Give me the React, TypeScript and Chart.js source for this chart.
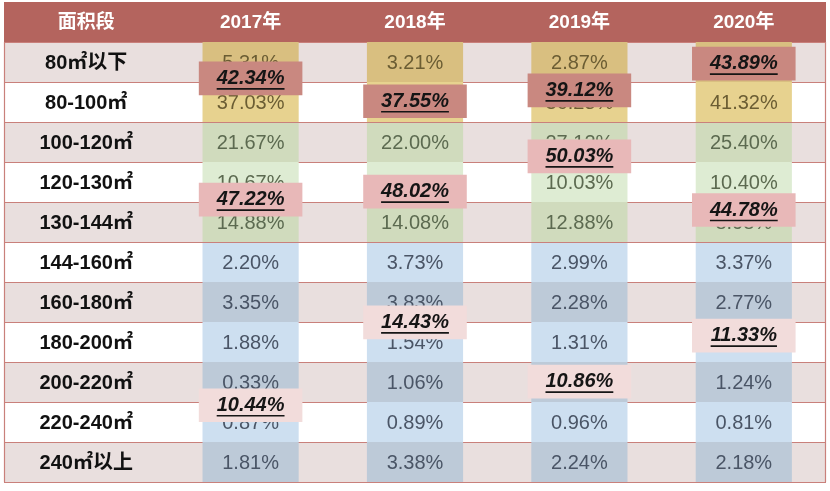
import { useEffect, useRef } from "react";
import { Chart, registerables } from "chart.js";

Chart.register(...registerables);

// ---------- data ----------
const columnHeader = "面积段";
const years = ["2017年", "2018年", "2019年", "2020年"];
const areaBands = [
  "80㎡以下",
  "80-100㎡",
  "100-120㎡",
  "120-130㎡",
  "130-144㎡",
  "144-160㎡",
  "160-180㎡",
  "180-200㎡",
  "200-220㎡",
  "220-240㎡",
  "240㎡以上",
];
const share2017 = [5.31, 37.03, 21.67, 10.67, 14.88, 2.2, 3.35, 1.88, 0.33, 0.87, 1.81];
const share2018 = [3.21, 34.34, 22.0, 11.94, 14.08, 3.73, 3.83, 1.54, 1.06, 0.89, 3.38];
const share2019 = [2.87, 36.25, 27.12, 10.03, 12.88, 2.99, 2.28, 1.31, 1.08, 0.96, 2.24];
const share2020 = [2.57, 41.32, 25.4, 10.4, 8.98, 3.37, 2.77, 0.96, 1.24, 0.81, 2.18];
const yearShares = [share2017, share2018, share2019, share2020];
// size group of each band: 0 = up to 100㎡, 1 = 100-144㎡, 2 = above 144㎡
const bandGroup = [0, 0, 1, 1, 1, 2, 2, 2, 2, 2, 2];
// group totals per year
const smallTotal = [42.34, 37.55, 39.12, 43.89];
const midTotal = [47.22, 48.02, 50.03, 44.78];
const largeTotal = [10.44, 14.43, 10.86, 11.33];

// ---------- layout of the total labels (row units) ----------
const smallLabelRow = [0.91, 1.48, 1.21, 0.54];
const midLabelRow = [3.94, 3.74, 2.86, 4.2];
const largeLabelRow = [9.08, 7.01, 8.49, 7.34];
const LABEL_HALF = 0.42;

// ---------- styles ----------
const HEADER_BG = "#b4645e";
const ROW_ALT_BG = "#e9dfde";
const LINE = "#c9807b";
const CELL_COLORS = [
  { white: "#e7d28f", alt: "#d9bf80", text: "#6b5d33" },
  { white: "#deecd3", alt: "#d0dbbd", text: "#5c6a50" },
  { white: "#cddff0", alt: "#bdcad8", text: "#4a5566" },
];
const TOTAL_COLORS = ["#c98880", "#e8b8b8", "#f2dcdb"];
const LATIN = '"Liberation Sans", "Noto Sans CJK SC", sans-serif';
const CJK = '"Liberation Sans", "Noto Sans CJK SC", sans-serif';

const fmt = (v: number) => v.toFixed(2) + "%";

const tablePainter = {
  id: "tablePainter",
  beforeDatasetsDraw(chart: any) {
    const { ctx, chartArea: ca, scales } = chart;
    const x = scales.x;
    const y = scales.y;
    chart.$cellTextDone = false;
    ctx.save();
    // row backgrounds
    areaBands.forEach((_, i) => {
      const top = y.getPixelForValue(i);
      const bottom = y.getPixelForValue(i + 1);
      ctx.fillStyle = i % 2 === 0 ? ROW_ALT_BG : "#ffffff";
      ctx.fillRect(ca.left, top, ca.right - ca.left, bottom - top);
    });
    // header
    ctx.fillStyle = HEADER_BG;
    ctx.fillRect(ca.left, ca.top - 40, ca.right - ca.left, 40);
    ctx.fillStyle = "#ffffff";
    ctx.font = `bold 19px ${CJK}`;
    ctx.textAlign = "center";
    ctx.textBaseline = "middle";
    [columnHeader, ...years].forEach((t, k) => {
      ctx.fillText(t, x.getPixelForValue(k), ca.top - 19);
    });
    // grid lines
    ctx.strokeStyle = LINE;
    ctx.lineWidth = 1.2;
    for (let i = 0; i <= areaBands.length; i++) {
      const py = Math.round(y.getPixelForValue(i)) + 0.5;
      ctx.beginPath();
      ctx.moveTo(ca.left, py);
      ctx.lineTo(ca.right, py);
      ctx.stroke();
    }
    ctx.beginPath();
    ctx.moveTo(ca.left + 0.5, ca.top);
    ctx.lineTo(ca.left + 0.5, ca.bottom);
    ctx.moveTo(ca.right - 0.5, ca.top);
    ctx.lineTo(ca.right - 0.5, ca.bottom);
    ctx.stroke();
    // band labels
    ctx.fillStyle = "#111111";
    ctx.font = `bold 20px ${CJK}`;
    areaBands.forEach((t, i) => {
      ctx.fillText(t, x.getPixelForValue(0), y.getPixelForValue(i + 0.5) + 1);
    });
    ctx.restore();
  },
  beforeDatasetDraw(chart: any, args: any) {
    const ds = chart.data.datasets[args.index];
    if (!ds.isTotal || chart.$cellTextDone) return;
    chart.$cellTextDone = true;
    const { ctx, chartArea: ca, scales } = chart;
    const y = scales.y;
    ctx.save();
    // separators between size groups stay visible over the cells
    ctx.strokeStyle = LINE;
    ctx.lineWidth = 1.2;
    for (let i = 1; i < bandGroup.length; i++) {
      if (bandGroup[i] !== bandGroup[i - 1]) {
        const py = Math.round(y.getPixelForValue(i)) + 0.5;
        ctx.beginPath();
        ctx.moveTo(ca.left, py);
        ctx.lineTo(ca.right, py);
        ctx.stroke();
      }
    }
    ctx.font = `20px ${LATIN}`;
    ctx.textAlign = "center";
    ctx.textBaseline = "middle";
    areaBands.forEach((_, i) => {
      const meta = chart.getDatasetMeta(i);
      ctx.fillStyle = CELL_COLORS[bandGroup[i]].text;
      yearShares.forEach((arr, j) => {
        const el = meta.data[j + 1];
        if (!el) return;
        ctx.fillText(fmt(arr[i]), el.x, (el.y + el.base) / 2 + 1);
      });
    });
    ctx.restore();
  },
  afterDatasetsDraw(chart: any) {
    const { ctx } = chart;
    ctx.save();
    ctx.font = `italic bold 20px ${LATIN}`;
    ctx.textAlign = "center";
    ctx.textBaseline = "middle";
    ctx.fillStyle = "#151515";
    ctx.strokeStyle = "#151515";
    ctx.lineWidth = 1.6;
    chart.data.datasets.forEach((ds: any, di: number) => {
      if (!ds.isTotal) return;
      const meta = chart.getDatasetMeta(di);
      ds.totals.forEach((v: number, j: number) => {
        const el = meta.data[j + 1];
        if (!el) return;
        const cy = (el.y + el.base) / 2;
        const t = fmt(v);
        ctx.fillText(t, el.x, cy);
        const w = ctx.measureText(t).width;
        ctx.beginPath();
        ctx.moveTo(el.x - w / 2, cy + 10.5);
        ctx.lineTo(el.x + w / 2, cy + 10.5);
        ctx.stroke();
      });
    });
    ctx.restore();
  },
};

export default function App() {
  const ref = useRef<HTMLCanvasElement | null>(null);
  useEffect(() => {
    if (!ref.current) return;
    const cellSets = areaBands.map((name, i) => {
      const c = CELL_COLORS[bandGroup[i]];
      return {
        label: name,
        data: [null, ...years.map(() => [i, i + 1])],
        backgroundColor: i % 2 === 0 ? c.alt : c.white,
        borderWidth: 0,
        grouped: false,
        categoryPercentage: 1,
        barPercentage: 0.585,
        order: 1,
      };
    });
    const totalSets = [
      { rows: smallLabelRow, totals: smallTotal },
      { rows: midLabelRow, totals: midTotal },
      { rows: largeLabelRow, totals: largeTotal },
    ].map((g, k) => ({
      label: "total" + k,
      data: [null, ...g.rows.map((r) => [r - LABEL_HALF, r + LABEL_HALF])],
      backgroundColor: TOTAL_COLORS[k],
      borderWidth: 0,
      grouped: false,
      categoryPercentage: 1,
      barPercentage: 0.63,
      order: 0,
      isTotal: true,
      totals: g.totals,
    }));
    const chart = new Chart(ref.current, {
      type: "bar",
      data: {
        labels: [columnHeader, ...years],
        datasets: [...cellSets, ...totalSets] as any,
      },
      options: {
        animation: false,
        responsive: false,
        devicePixelRatio: 1,
        layout: { padding: { top: 42, bottom: 9, left: 4, right: 4 } },
        plugins: { legend: { display: false }, tooltip: { enabled: false } },
        scales: {
          x: { type: "category", display: false, offset: true },
          y: { type: "linear", display: false, min: 0, max: areaBands.length, reverse: true },
        },
      },
      plugins: [tablePainter],
    });
    return () => chart.destroy();
  }, []);
  return (
    <div style={{ position: "absolute", left: 0, top: 0, width: 830, height: 491, background: "#fff" }}>
      <canvas ref={ref} width={830} height={491} />
    </div>
  );
}
